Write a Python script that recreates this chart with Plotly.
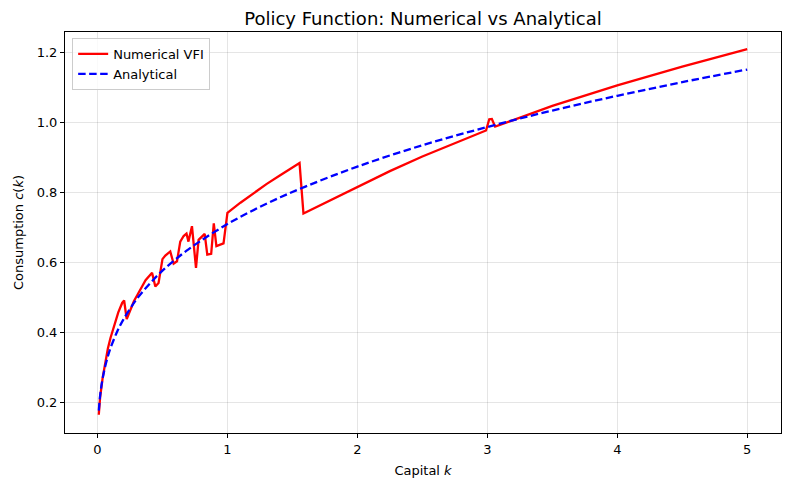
import plotly.graph_objects as go

# numerical VFI policy
k_num = [0.01, 0.02, 0.04, 0.06, 0.08, 0.10, 0.13, 0.16, 0.19, 0.205, 0.225, 0.25,
         0.28, 0.31, 0.34, 0.37, 0.42, 0.445, 0.47, 0.50, 0.522, 0.56, 0.586, 0.612,
         0.637, 0.663, 0.685, 0.70, 0.727, 0.758, 0.778, 0.825, 0.845, 0.875, 0.895,
         0.915, 0.97, 1.0, 1.1, 1.2, 1.3, 1.4, 1.5, 1.555, 1.585, 1.8, 2.0, 2.25,
         2.5, 2.75, 2.99, 3.015, 3.035, 3.06, 3.5, 4.0, 4.5, 5.0]
c_num = [0.166, 0.215, 0.272, 0.318, 0.355, 0.385, 0.425, 0.458, 0.485, 0.492, 0.439, 0.462,
         0.49, 0.51, 0.532, 0.55, 0.571, 0.532, 0.542, 0.61, 0.62, 0.632, 0.597, 0.604,
         0.66, 0.676, 0.683, 0.66, 0.704, 0.585, 0.665, 0.682, 0.623, 0.625, 0.712,
         0.647, 0.655, 0.742, 0.771, 0.798, 0.824, 0.848, 0.871, 0.884, 0.740, 0.779, 0.816, 0.861,
         0.903, 0.941, 0.977, 1.009, 1.01, 0.988, 1.047, 1.106, 1.159, 1.209]

# analytical policy
k_ana = [0.01, 0.02, 0.03, 0.04, 0.06, 0.08, 0.1, 0.15, 0.2, 0.3, 0.4, 0.5, 0.7,
         1.0, 1.3, 1.6, 2.0, 2.5, 3.0, 3.5, 4.0, 4.5, 5.0]
c_ana = [0.178, 0.220, 0.248, 0.270, 0.305, 0.333, 0.356, 0.402, 0.438, 0.495, 0.539, 0.577, 0.638,
         0.710, 0.768, 0.817, 0.874, 0.935, 0.987, 1.034, 1.076, 1.115, 1.151]

font = "DejaVu Sans, Liberation Sans, sans-serif"

fig = go.Figure()
fig.add_trace(go.Scatter(x=k_num, y=c_num, mode="lines", name="Numerical VFI",
                         line=dict(color="red", width=2.3)))
fig.add_trace(go.Scatter(x=k_ana, y=c_ana, mode="lines", name="Analytical",
                         line=dict(color="blue", width=2.3, dash="7.5px,3.5px", shape="spline")))

axis_common = dict(showline=True, linecolor="black", linewidth=1, mirror=True,
                   ticks="outside", ticklen=4, tickcolor="black", automargin=False,
                   showgrid=True, gridcolor="rgba(0,0,0,0.1)", gridwidth=1,
                   zeroline=False, tickfont=dict(size=13, color="black", family=font))

# the page body adds ~8px offset, so the figure is a bit smaller than the window
fig.update_layout(
    width=782, height=482,
    margin=dict(l=57, r=9, t=24, b=57),
    paper_bgcolor="white", plot_bgcolor="white",
    font=dict(family=font, color="black", size=13),
    title=dict(text="Policy Function: Numerical vs Analytical", x=0.5, xref="paper",
               xanchor="center", y=0.978, yanchor="middle", font=dict(size=18, color="black")),
    xaxis=dict(axis_common, range=[-0.25, 5.26], dtick=1,
               title=dict(text="Capital <i>k</i>", standoff=10, font=dict(size=13))),
    yaxis=dict(axis_common, range=[0.114, 1.258], tickvals=[0.2, 0.4, 0.6, 0.8, 1.0, 1.2],
               ticktext=["0.2", "0.4", "0.6", "0.8", "1.0", "1.2"],
               title=dict(text="Consumption <i>c</i>(<i>k</i>)", standoff=10, font=dict(size=13))),
    legend=dict(x=0.01, y=0.985, xanchor="left", yanchor="top",
                bgcolor="rgba(255,255,255,0.8)", bordercolor="#cccccc", borderwidth=1,
                font=dict(size=13, color="black"), tracegroupgap=2),
    showlegend=True,
)

fig.write_html("out.html")
